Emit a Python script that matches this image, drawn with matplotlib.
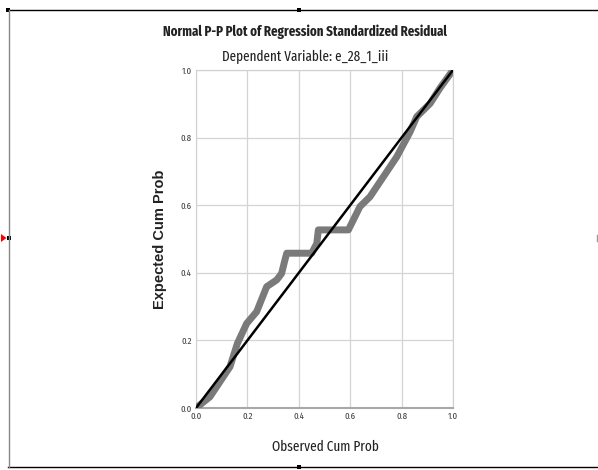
import matplotlib.pyplot as plt
from matplotlib import font_manager
from matplotlib.font_manager import FontProperties
from matplotlib.lines import Line2D
from matplotlib.patches import Polygon

# ── Data ─────────────────────────────────────────────────────────────────
observed = [0.0, 0.054, 0.132, 0.161, 0.197, 0.236, 0.275, 0.314, 0.333,
            0.346, 0.353, 0.450, 0.470, 0.476, 0.593, 0.638, 0.677, 0.729,
            0.781, 0.833, 0.859, 0.911, 0.949, 1.0]
expected = [0.0, 0.033, 0.122, 0.191, 0.250, 0.285, 0.359, 0.379, 0.398,
            0.438, 0.458, 0.458, 0.487, 0.527, 0.527, 0.596, 0.625, 0.684,
            0.743, 0.817, 0.862, 0.901, 0.946, 1.0]
ref_line = [0.0, 1.0]
ticks = [0.0, 0.2, 0.4, 0.6, 0.8, 1.0]


# ── Narrow font lookup (SPSS uses Arial Narrow-ish text) ─────────────────
def narrow_font(bold, size):
    files = [f.fname for f in font_manager.fontManager.ttflist]
    want = ['liberationsansnarrow', 'arialnarrow', 'extracondensed',
            'dejavusanscondensed', 'robotocondensed', 'condensed']
    for key in want:
        for fn in files:
            base = fn.split('/')[-1].replace(' ', '').replace('_', '').lower()
            if key not in base:
                continue
            if key == 'condensed' and 'semicondensed' in base:
                continue
            if any(s in base for s in ('oblique', 'italic', 'light', 'thin',
                                       'medium', 'black', 'semibold', 'extrabold')):
                continue
            if bold == ('bold' in base):
                return FontProperties(fname=fn, size=size)
    fp = FontProperties(family=['Liberation Sans', 'DejaVu Sans'], size=size * 0.85)
    if bold:
        fp.set_weight('bold')
    return fp


def fit_width(txt, target_px):
    # scale a text so its drawn width matches the reference width
    fig.canvas.draw()
    w = txt.get_window_extent().width
    if w > 0:
        txt.set_fontsize(txt.get_fontsize() * target_px / w)


fig = plt.figure(figsize=(5.98, 4.70), dpi=100)
fig.patch.set_facecolor('white')

ax = fig.add_axes([0.3278, 0.1319, 0.4297, 0.7191])
ax.plot(observed, expected, color='#7a7a7a', lw=5, solid_joinstyle='round',
        solid_capstyle='round', zorder=3)
ax.plot(ref_line, ref_line, color='black', lw=1.8, zorder=4)

ax.set_xlim(0, 1)
ax.set_ylim(0, 1)
ax.set_xticks(ticks)
ax.set_yticks(ticks)
tick_fp = narrow_font(False, 7)
ax.set_xticklabels([f'{t:.1f}' for t in ticks], fontproperties=tick_fp, color='#444444')
ax.set_yticklabels([f'{t:.1f}' for t in ticks], fontproperties=tick_fp, color='#444444')
ax.tick_params(length=0, pad=3)
ax.grid(True, color='#d4d4d4', lw=0.9)
ax.set_axisbelow(True)
for side in ['top', 'right', 'left']:
    ax.spines[side].set_color('#d0d0d0')
ax.spines['bottom'].set_color('#a8a8a8')
ax.spines['bottom'].set_linewidth(1.5)

ax.set_ylabel('Expected Cum Prob',
              fontproperties=FontProperties(family=['Liberation Sans', 'DejaVu Sans'],
                                            size=10.5, weight='bold'),
              color='#222222', labelpad=10)

title = fig.text(305 / 598, 1 - 32 / 470,
                 'Normal P-P Plot of Regression Standardized Residual',
                 fontproperties=narrow_font(True, 10), color='#222222',
                 ha='center', va='center')
subtitle = fig.text(305 / 598, 1 - 57 / 470, 'Dependent Variable: e_28_1_iii',
                    fontproperties=narrow_font(False, 10), color='#222222',
                    ha='center', va='center')
xlab = fig.text(325 / 598, 1 - 447 / 470, 'Observed Cum Prob',
                fontproperties=narrow_font(False, 10), color='#222222',
                ha='center', va='center')
fit_width(title, 284)
fit_width(subtitle, 166)
fit_width(xlab, 107)


# ── Selection frame around the chart ─────────────────────────────────────
def px(x, y):
    return x / 598, 1 - y / 470


fl = dict(transform=fig.transFigure, lw=1.0)
fig.add_artist(Line2D(*zip(px(8, 10), px(598, 10)), color='black', **fl))
fig.add_artist(Line2D(*zip(px(8, 467), px(598, 467)), color='black', **fl))
fig.add_artist(Line2D(*zip(px(8.5, 10), px(8.5, 467)), color='#888888', **fl))
for hx, hy in [(8, 10), (299, 10), (299, 467), (8.5, 238)]:
    fig.add_artist(Polygon([px(hx - 2, hy - 2), px(hx + 2, hy - 2),
                            px(hx + 2, hy + 2), px(hx - 2, hy + 2)],
                           closed=True, facecolor='black', edgecolor='none',
                           transform=fig.transFigure))
fig.add_artist(Polygon([px(1, 234), px(6.5, 238), px(1, 242)], closed=True,
                       facecolor='red', edgecolor='none', transform=fig.transFigure))
fig.add_artist(Line2D(*zip(px(597, 235), px(597, 241)), color='#999999', **fl))

fig.savefig('out.png', dpi=100, facecolor='white')
